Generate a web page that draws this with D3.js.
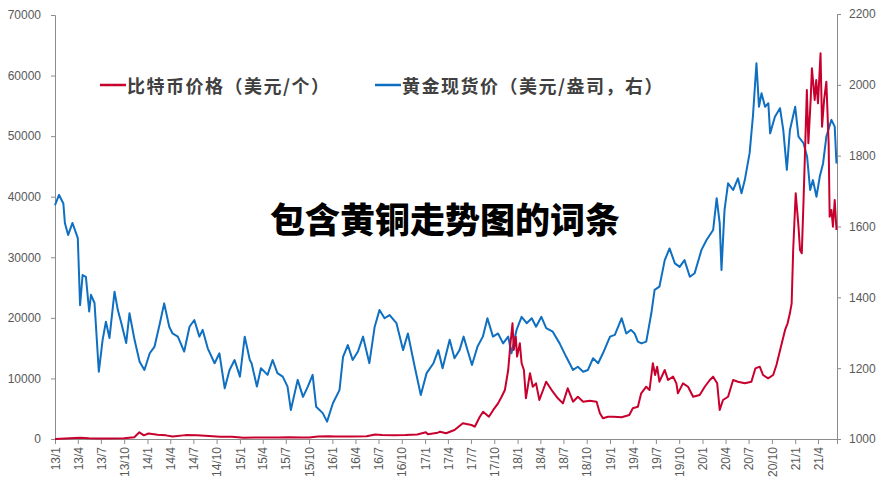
<!DOCTYPE html>
<html><head><meta charset="utf-8">
<script src="https://cdn.jsdelivr.net/npm/d3@7"></script>
<style>body{margin:0;background:#fff}svg{display:block}</style>
</head><body><svg id="c" width="886" height="492"></svg>
<script>
const goldDates=["2013-01-01","2013-01-17","2013-02-03","2013-02-09","2013-02-22","2013-03-11","2013-04-01","2013-04-10","2013-04-20","2013-05-03","2013-05-16","2013-05-23","2013-06-06","2013-06-23","2013-07-08","2013-07-21","2013-08-04","2013-08-24","2013-09-06","2013-09-20","2013-10-09","2013-10-22","2013-11-11","2013-12-01","2013-12-20","2014-01-10","2014-01-29","2014-02-19","2014-03-08","2014-03-28","2014-04-10","2014-05-01","2014-05-26","2014-06-16","2014-07-05","2014-07-25","2014-08-07","2014-08-27","2014-09-23","2014-10-12","2014-11-02","2014-11-21","2014-12-11","2015-01-01","2015-01-20","2015-02-09","2015-02-16","2015-03-09","2015-03-25","2015-04-20","2015-05-10","2015-05-29","2015-06-19","2015-07-08","2015-07-21","2015-08-17","2015-09-07","2015-09-26","2015-10-15","2015-10-29","2015-11-24","2015-12-11","2016-01-03","2016-01-29","2016-02-12","2016-03-02","2016-03-21","2016-04-11","2016-05-01","2016-05-26","2016-06-16","2016-07-05","2016-07-25","2016-08-14","2016-09-10","2016-10-06","2016-10-25","2016-11-21","2016-12-15","2017-01-07","2017-02-03","2017-02-22","2017-03-11","2017-04-08","2017-04-27","2017-05-17","2017-06-02","2017-06-19","2017-07-05","2017-07-27","2017-08-17","2017-09-04","2017-09-26","2017-10-16","2017-11-05","2017-11-25","2017-12-08","2017-12-28","2018-01-17","2018-02-06","2018-02-26","2018-03-15","2018-04-05","2018-04-24","2018-05-20","2018-06-16","2018-07-12","2018-08-08","2018-08-27","2018-09-17","2018-10-06","2018-10-26","2018-11-15","2018-12-04","2019-01-01","2019-01-20","2019-02-16","2019-03-06","2019-03-25","2019-04-08","2019-04-21","2019-05-05","2019-05-24","2019-06-13","2019-06-26","2019-07-15","2019-08-05","2019-08-24","2019-09-14","2019-10-03","2019-10-22","2019-11-12","2019-12-01","2019-12-28","2020-01-17","2020-02-12","2020-02-26","2020-03-09","2020-03-16","2020-03-28","2020-04-11","2020-05-01","2020-05-20","2020-06-03","2020-06-16","2020-07-05","2020-07-18","2020-08-01","2020-08-11","2020-08-21","2020-09-04","2020-09-17","2020-09-24","2020-10-13","2020-11-02","2020-11-15","2020-11-29","2020-12-11","2021-01-01","2021-01-14","2021-02-03","2021-02-17","2021-03-01","2021-03-12","2021-03-26","2021-04-08","2021-04-21","2021-05-04","2021-05-24","2021-06-06","2021-06-13"];
const goldValues=[1660,1689,1665,1610,1576,1610,1567,1378,1463,1458,1360,1407,1384,1190,1280,1331,1285,1416,1364,1327,1271,1355,1280,1218,1195,1242,1261,1327,1383,1317,1298,1289,1247,1317,1336,1289,1308,1256,1214,1242,1143,1195,1223,1176,1289,1223,1214,1148,1200,1181,1223,1186,1176,1148,1082,1167,1119,1148,1181,1091,1073,1049,1101,1138,1232,1265,1223,1247,1289,1214,1317,1364,1341,1350,1327,1251,1298,1204,1124,1186,1214,1251,1200,1280,1228,1251,1289,1247,1209,1261,1289,1341,1289,1298,1270,1289,1242,1308,1345,1327,1341,1317,1345,1313,1303,1270,1232,1195,1204,1190,1195,1228,1214,1242,1289,1294,1341,1298,1308,1298,1275,1270,1275,1355,1421,1430,1505,1538,1496,1486,1505,1458,1468,1534,1562,1590,1680,1609,1477,1647,1722,1703,1736,1694,1731,1807,1910,2061,1938,1976,1938,1948,1863,1910,1934,1872,1760,1872,1938,1854,1835,1797,1703,1731,1684,1741,1778,1854,1901,1882,1778];
const btcDates=["2013-01-01","2013-04-10","2013-05-15","2013-07-01","2013-10-01","2013-11-10","2013-11-30","2013-12-18","2014-01-05","2014-02-10","2014-03-15","2014-04-10","2014-06-01","2014-07-15","2014-09-01","2014-10-15","2014-12-01","2015-01-15","2015-03-01","2015-06-01","2015-07-15","2015-09-01","2015-10-01","2015-11-05","2015-12-15","2016-01-15","2016-03-15","2016-05-15","2016-06-18","2016-07-15","2016-09-01","2016-10-15","2016-12-01","2017-01-04","2017-01-12","2017-02-20","2017-03-01","2017-03-25","2017-04-27","2017-05-30","2017-07-03","2017-07-16","2017-08-05","2017-08-18","2017-09-10","2017-09-27","2017-10-16","2017-10-30","2017-11-12","2017-11-25","2017-12-04","2017-12-12","2017-12-17","2017-12-25","2017-12-30","2018-01-10","2018-01-17","2018-01-26","2018-02-03","2018-02-19","2018-03-02","2018-03-15","2018-03-28","2018-04-24","2018-05-20","2018-06-09","2018-06-29","2018-07-18","2018-08-08","2018-08-27","2018-09-17","2018-10-13","2018-11-09","2018-11-22","2018-12-04","2018-12-24","2019-01-13","2019-02-16","2019-03-18","2019-04-01","2019-04-21","2019-05-04","2019-05-24","2019-06-06","2019-06-19","2019-06-28","2019-07-06","2019-07-15","2019-08-05","2019-08-18","2019-09-07","2019-09-20","2019-09-26","2019-10-16","2019-11-05","2019-11-25","2019-12-21","2020-01-10","2020-01-30","2020-02-12","2020-02-28","2020-03-09","2020-03-22","2020-04-11","2020-05-01","2020-05-20","2020-06-16","2020-07-12","2020-07-28","2020-08-14","2020-08-27","2020-09-16","2020-10-06","2020-10-19","2020-11-09","2020-11-22","2020-12-02","2020-12-11","2020-12-18","2020-12-24","2021-01-03","2021-01-14","2021-01-20","2021-01-27","2021-02-03","2021-02-09","2021-02-16","2021-02-22","2021-03-03","2021-03-08","2021-03-19","2021-03-25","2021-04-01","2021-04-11","2021-04-17","2021-04-25","2021-05-04","2021-05-13","2021-05-17","2021-05-24","2021-05-30","2021-06-06","2021-06-13"];
const btcValues=[13,200,120,90,130,300,1100,600,900,700,600,400,640,620,480,390,370,210,260,230,290,230,240,400,450,400,415,450,750,660,600,640,750,1100,800,1050,1200,950,1486,2590,2310,2030,3680,4500,3680,4800,5880,6980,8090,11390,15800,19100,14700,16900,13600,15800,12500,11390,6720,10850,8630,9190,6440,9460,7810,6720,5880,8370,6160,6980,6160,6330,6160,4240,3420,3680,3680,3580,3960,5070,5330,7540,8630,8090,12500,10570,11940,9460,11390,9740,10290,9190,7540,9190,8630,6980,7260,8630,9740,10290,9190,4790,6440,6980,9740,9460,9190,9460,11670,11940,10570,10020,10570,12220,15800,18000,19100,20750,22400,31200,40570,35050,31200,30660,39460,47710,57620,48820,55970,61200,55970,59270,55420,63680,51560,55970,58990,48820,36700,37810,35050,39460,34510];
const leftTicks=[0,10000,20000,30000,40000,50000,60000,70000];
const rightTicks=[1000,1200,1400,1600,1800,2000,2200];
const seriesNames=["比特币价格（美元/个）","黄金现货价（美元/盎司，右）"];
const titleText="包含黄铜走势图的词条";

const BTC="#c8002e", GOLD="#0f6fc0", AX="#8c8c8c", TXT="#595959";
const parse=d3.timeParse("%Y-%m-%d");
const svg=d3.select("#c");
const x=d3.scaleTime().domain([new Date(2013,0,1),new Date(2021,5,15)]).range([55,837]);
const yL=d3.scaleLinear().domain([0,70000]).range([439,15]);
const yR=d3.scaleLinear().domain([1000,2200]).range([439,14]);

function styleAxis(g){g.selectAll("path,line").attr("stroke",AX);
  g.selectAll("text").attr("fill",TXT).style("font-family","'Liberation Sans',Arial,sans-serif").style("font-size","12px");}

svg.append("g").attr("transform","translate(55,0)")
  .call(d3.axisLeft(yL).tickValues(leftTicks).tickFormat(d3.format("d")).tickSizeOuter(0).tickSize(4).tickPadding(10))
  .call(styleAxis);
svg.append("g").attr("transform","translate(837,0)")
  .call(d3.axisRight(yR).tickValues(rightTicks).tickFormat(d3.format("d")).tickSizeOuter(0).tickSize(4).tickPadding(8))
  .call(styleAxis);
const xt=d3.timeMonth.every(3).range(new Date(2013,0,1),new Date(2021,5,2));
const xa=svg.append("g").attr("transform","translate(0,439)")
  .call(d3.axisBottom(x).tickValues(xt).tickFormat(d=>(d.getFullYear()%100)+"/"+(d.getMonth()+1)).tickSizeOuter(0).tickSize(5))
  .call(styleAxis);
xa.selectAll("text").attr("transform","rotate(-90)").attr("text-anchor","end").attr("x",-8).attr("y",0).attr("dy","0.35em");

const gold=goldDates.map((d,i)=>({d:parse(d),v:goldValues[i]}));
const btc=btcDates.map((d,i)=>({d:parse(d),v:btcValues[i]}));
svg.append("path").datum(gold).attr("fill","none").attr("stroke",GOLD).attr("stroke-width",2).attr("stroke-linejoin","round")
  .attr("d",d3.line().x(p=>x(p.d)).y(p=>yR(p.v)));
svg.append("path").datum(btc).attr("fill","none").attr("stroke",BTC).attr("stroke-width",2).attr("stroke-linejoin","round")
  .attr("d",d3.line().x(p=>x(p.d)).y(p=>yL(p.v)));

const leg=[{c:BTC,x:100,t:seriesNames[0]},{c:GOLD,x:375,t:seriesNames[1]}];
leg.forEach(l=>{
  svg.append("line").attr("x1",l.x).attr("x2",l.x+26).attr("y1",85).attr("y2",85).attr("stroke",l.c).attr("stroke-width",2.5);
  svg.append("text").attr("x",l.x+27).attr("y",85).attr("dominant-baseline","central").attr("fill","#404040")
    .style("font-family","'Noto Sans CJK SC',sans-serif").style("font-size","18px").style("font-weight","700")
    .style("letter-spacing","1.5px").text(l.t);
});
svg.append("text").attr("x",445).attr("y",217).attr("text-anchor","middle").attr("dominant-baseline","central")
  .attr("fill","#000").style("font-family","'Noto Sans CJK SC',sans-serif").style("font-size","35px").style("font-weight","900").text(titleText);
</script></body></html>
